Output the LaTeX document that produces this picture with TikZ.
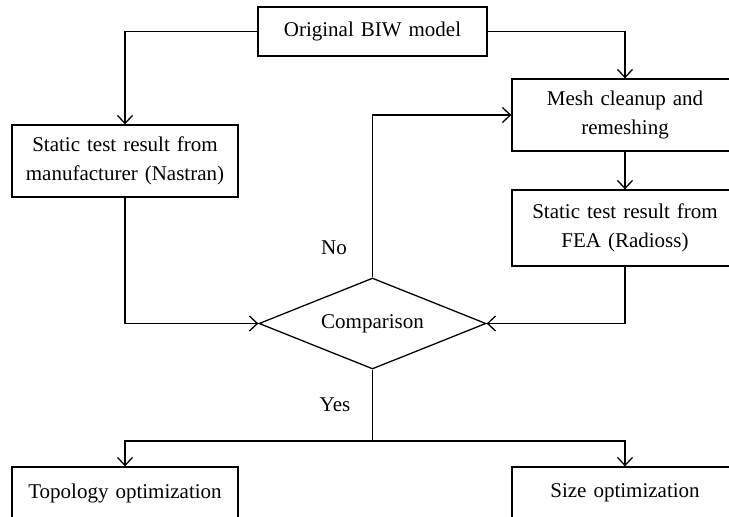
\documentclass[tikz,border=0pt]{standalone}
\usepackage{fontspec}
\setmainfont{Liberation Serif}
\usetikzlibrary{arrows.meta,shapes.geometric}
\tikzset{
  box/.style={draw, line width=1.3pt, rectangle, inner sep=0pt, align=center,
    font=\fontsize{21}{29}\selectfont, text width=#1},
  box/.default=220pt,
  decision/.style={draw, line width=1.3pt, diamond, inner sep=0pt, aspect=2.5,
    minimum width=227pt, minimum height=91pt, font=\fontsize{21}{29}\selectfont},
  arr/.style={line width=1.3pt, -{Straight Barb[length=8pt,width=15pt,line width=1.3pt]}},
  ln/.style={line width=1.3pt},
  lbl/.style={font=\fontsize{21}{29}\selectfont, inner sep=0pt}
}
\begin{document}
\begin{tikzpicture}[x=1pt,y=-1pt]
\clip (0,0) rectangle (729,517);
\fill[white] (0,0) rectangle (729,517);
\node[box, minimum width=229pt, minimum height=49pt] (top) at (372.5,31.5) {Original BIW model};
\node[box, minimum width=226pt, minimum height=72pt] (left) at (125,161) {Static test result from\\manufacturer (Nastran)};
\node[box, minimum width=226pt, minimum height=72pt] (mesh) at (625,115) {Mesh cleanup and\\remeshing};
\node[box, minimum width=226pt, minimum height=76pt] (fea) at (625,228) {Static test result from\\FEA (Radioss)};
\node[decision] (cmp) at (372.5,323.5) {Comparison};
\node[box, minimum width=226pt, minimum height=52pt] (topo) at (125,493) {Topology optimization};
\node[box, minimum width=226pt, minimum height=52pt] (size) at (625,493) {Size optimization};
\coordinate (split) at (372.5,441);
\draw[arr] (top.west) -| (left.north);
\draw[arr] (top.east) -| (mesh.north);
\draw[arr] (mesh.south) -- (fea.north);
\draw[arr] (left.south) |- (cmp.west);
\draw[arr] (fea.south) |- (cmp.east);
\draw[arr] (cmp.north) |- (mesh.west);
\draw[ln] (cmp.south) -- (split);
\draw[arr] (split) -| (topo.north);
\draw[arr] (split) -| (size.north);
\node[lbl] (no) at (334,248) {No};
\node[lbl] (yes) at (335,405) {Yes};
\end{tikzpicture}
\end{document}
